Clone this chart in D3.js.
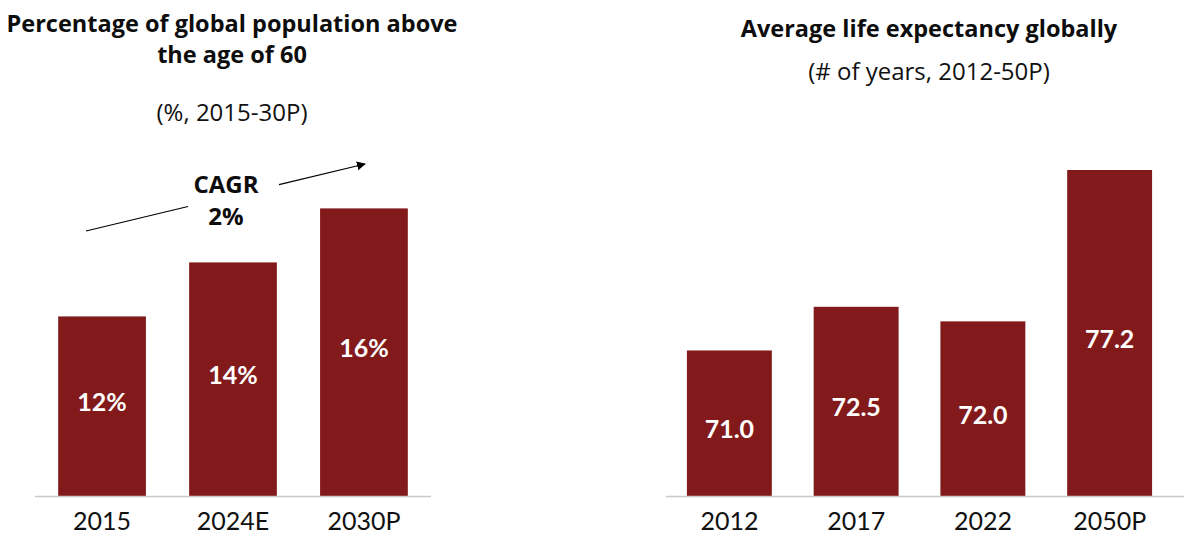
<!DOCTYPE html>
<html>
<head>
<meta charset="utf-8">
<script src="https://cdn.jsdelivr.net/npm/d3@7"></script>
<style>
  html, body { margin: 0; padding: 0; background: #ffffff; }
  svg { display: block; }
  text { font-family: Lato, "Open Sans", sans-serif; }
  .head { font-family: "Open Sans", Lato, sans-serif; }
</style>
</head>
<body>
<svg id="chart" width="1184" height="538"></svg>
<script>
// Share of global population aged 60+
const popYears = ["2015", "2024E", "2030P"];
const popShare = [12, 14, 16];
const popLabels = ["12%", "14%", "16%"];

// Average global life expectancy, years
const lifeYears = ["2012", "2017", "2022", "2050P"];
const lifeExp = [71.0, 72.5, 72.0, 77.2];
const lifeLabels = ["71.0", "72.5", "72.0", "77.2"];

const cagrLines = ["CAGR", "2%"];

const BAR = "#821a1b";
const AXIS = "#c9c9cc";
const BASE = 496;

const svg = d3.select("#chart");

svg.append("defs").append("marker")
  .attr("id", "arrowHead")
  .attr("viewBox", "0 0 10 10")
  .attr("refX", 9).attr("refY", 5)
  .attr("markerWidth", 9).attr("markerHeight", 9)
  .attr("markerUnits", "userSpaceOnUse")
  .attr("orient", "auto")
  .append("path").attr("d", "M0,0 L10,5 L0,10 Z").attr("fill", "#000");

function panel(opts) {
  const g = svg.append("g");
  const x = d3.scaleBand().domain(opts.cats).range(opts.xRange)
    .paddingInner(0.33).paddingOuter(opts.outer);
  const y = d3.scaleLinear().domain(opts.yDomain).range([BASE, opts.yTop]);

  g.selectAll("rect.bar").data(opts.values).join("rect")
    .attr("class", "bar")
    .attr("x", (d, i) => x(opts.cats[i]))
    .attr("width", x.bandwidth())
    .attr("y", d => y(d))
    .attr("height", d => BASE - y(d))
    .attr("fill", BAR);

  g.selectAll("text.val").data(opts.values).join("text")
    .attr("class", "val")
    .attr("x", (d, i) => x(opts.cats[i]) + x.bandwidth() / 2)
    .attr("y", d => (y(d) + BASE) / 2 + opts.labelShift)
    .attr("text-anchor", "middle")
    .attr("dominant-baseline", "central")
    .attr("fill", "#ffffff")
    .attr("font-size", 25)
    .attr("font-weight", 700)
    .text((d, i) => opts.labels[i]);

  const ax = g.append("g")
    .attr("transform", `translate(0,${BASE})`)
    .call(d3.axisBottom(x).tickSize(0).tickPadding(16));
  ax.select(".domain").remove();
  ax.selectAll("text")
    .attr("font-size", 25)
    .attr("fill", "#111")
    .style("font-family", "Lato, sans-serif");

  g.append("line")
    .attr("x1", opts.xRange[0]).attr("x2", opts.axisEnd)
    .attr("y1", BASE + 0.5).attr("y2", BASE + 0.5)
    .attr("stroke", AXIS).attr("stroke-width", 1.6);

  opts.title.forEach((t, i) => {
    g.append("text")
      .attr("class", "head")
      .attr("x", opts.cx).attr("y", opts.titleY[i])
      .attr("text-anchor", "middle")
      .attr("font-size", 23.5)
      .attr("font-weight", 700)
      .attr("fill", "#0d0d0d")
      .text(t);
  });
  g.append("text")
    .attr("class", "head")
    .attr("x", opts.cx).attr("y", opts.subY)
    .attr("text-anchor", "middle")
    .attr("font-size", 24)
    .attr("fill", "#111")
    .text(opts.sub);
  return { x, y };
}

panel({
  cats: popYears, values: popShare, labels: popLabels,
  xRange: [35, 431], outer: 0.177, axisEnd: 431,
  yDomain: [5.35, 16], yTop: 208.4, labelShift: -5,
  title: ["Percentage of global population above", "the age of 60"],
  titleY: [32, 63], cx: 232,
  sub: "(%, 2015-30P)", subY: 121
});

panel({
  cats: lifeYears, values: lifeExp, labels: lifeLabels,
  xRange: [666, 1173], outer: 0.165, axisEnd: 1184,
  yDomain: [66, 77.2], yTop: 170, labelShift: 5,
  title: ["Average life expectancy globally"],
  titleY: [37], cx: 929,
  sub: "(# of years, 2012-50P)", subY: 80
});

// CAGR annotation: a rising arrow interrupted by the label
const a0 = [86, 231], a1 = [365, 164];
const along = t => [a0[0] + (a1[0] - a0[0]) * t, a0[1] + (a1[1] - a0[1]) * t];
const gapStart = along((188 - a0[0]) / (a1[0] - a0[0]));
const gapEnd = along((279 - a0[0]) / (a1[0] - a0[0]));
svg.append("line")
  .attr("x1", a0[0]).attr("y1", a0[1]).attr("x2", gapStart[0]).attr("y2", gapStart[1])
  .attr("stroke", "#000").attr("stroke-width", 1.2);
svg.append("line")
  .attr("x1", gapEnd[0]).attr("y1", gapEnd[1]).attr("x2", a1[0]).attr("y2", a1[1])
  .attr("stroke", "#000").attr("stroke-width", 1.2)
  .attr("marker-end", "url(#arrowHead)");

svg.selectAll("text.cagr").data(cagrLines).join("text")
  .attr("class", "cagr head")
  .attr("x", 226)
  .attr("y", (d, i) => 193 + i * 32)
  .attr("text-anchor", "middle")
  .attr("font-size", 24)
  .attr("font-weight", 700)
  .attr("fill", "#0d0d0d")
  .text(d => d);
</script>
</body>
</html>
